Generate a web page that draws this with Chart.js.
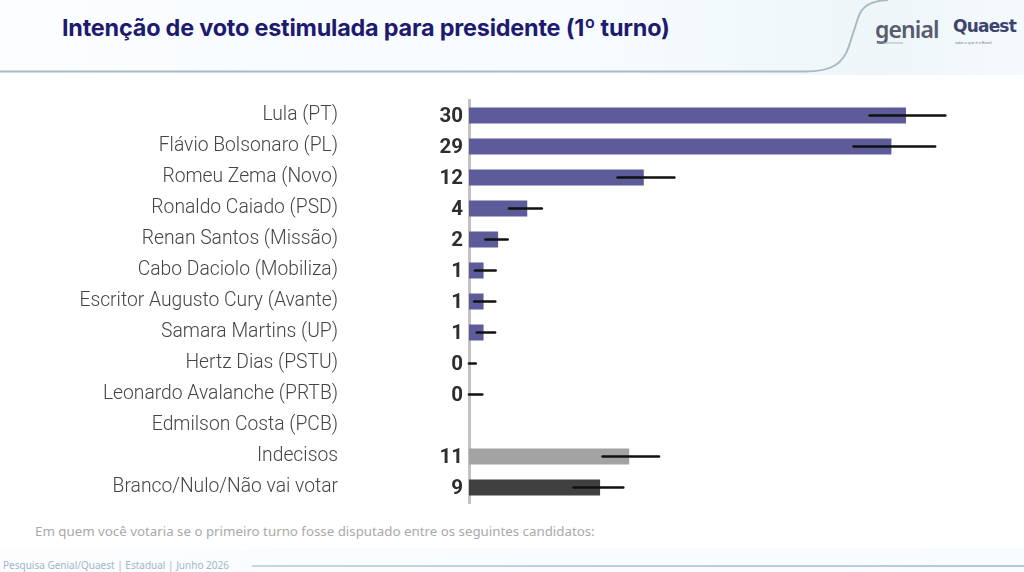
<!DOCTYPE html>
<html>
<head>
<meta charset="utf-8">
<script src="https://cdn.jsdelivr.net/npm/chart.js@4.4.1/dist/chart.umd.min.js"></script>
<style>
  html,body{margin:0;padding:0;background:#fff;}
  body{width:1024px;height:572px;position:relative;overflow:hidden;font-family:Roboto,"Noto Sans",sans-serif;}
  #hdr{position:absolute;left:0;top:0;width:1024px;height:75px;
       background:linear-gradient(90deg,#fbfdff 0%,#f6fbfd 60%,#eef6fa 85%,#f4f9fc 100%);}
  #title{position:absolute;left:62px;top:13px;font-family:Inter,sans-serif;font-weight:700;font-size:23.4px;color:#1d1a70;letter-spacing:-0.2px;white-space:nowrap;}
  #svgl{position:absolute;left:0;top:0;}
  #logo1{position:absolute;left:875px;top:13px;font-family:"Noto Sans",sans-serif;font-weight:600;font-size:23px;color:#585c6e;letter-spacing:-0.9px;}
  #logo1s{position:absolute;left:878px;top:40px;font-size:4px;color:#9aa;}
  #logo2{position:absolute;left:953px;top:16px;font-family:"DejaVu Sans",sans-serif;font-weight:700;font-size:17px;color:#3d4470;letter-spacing:-0.8px;}
  #logo2s{position:absolute;left:955px;top:40px;font-size:4px;color:#889;}
  #note{position:absolute;left:35px;top:522px;font-family:"Noto Sans",sans-serif;font-size:13.3px;color:#a9a9a9;white-space:nowrap;}
  #foot{position:absolute;left:3px;top:558px;font-family:"Noto Sans",sans-serif;font-size:10px;color:#a3b6c6;white-space:nowrap;}
  #footline{position:absolute;left:252px;top:565px;width:772px;height:2px;background:linear-gradient(90deg,#c7d6e0,#b5c9d6);}
  #bot{position:absolute;left:0;top:548px;width:1024px;height:24px;background:linear-gradient(90deg,#fbfdff,#f7fbfd);}
  canvas{position:absolute;left:0;top:0;}
</style>
</head>
<body>
<div id="hdr"></div>
<svg id="svgl" width="1024" height="80">
  <path d="M0,71.5 L805,71.5 C832,71.5 843,64 849,46 L858,18 C862,6 870,1 888,0" fill="none" stroke="#a9bac4" stroke-width="2"/>
</svg>
<div id="title">Intenção de voto estimulada para presidente (1º turno)</div>
<div id="logo1">genial</div>
<div id="logo1s">investimentos</div>
<div id="logo2">Quaest</div>
<div id="logo2s">sabe o que é o Brasil</div>
<div id="bot"></div>
<div id="note">Em quem você votaria se o primeiro turno fosse disputado entre os seguintes candidatos:</div>
<div id="foot">Pesquisa Genial/Quaest | Estadual | Junho 2026</div>
<div id="footline"></div>
<canvas id="c" width="1024" height="572"></canvas>
<script>
const categories = [
  "Lula (PT)",
  "Flávio Bolsonaro (PL)",
  "Romeu Zema (Novo)",
  "Ronaldo Caiado (PSD)",
  "Renan Santos (Missão)",
  "Cabo Daciolo (Mobiliza)",
  "Escritor Augusto Cury (Avante)",
  "Samara Martins (UP)",
  "Hertz Dias (PSTU)",
  "Leonardo Avalanche (PRTB)",
  "Edmilson Costa (PCB)",
  "Indecisos",
  "Branco/Nulo/Não vai votar"
];
const values    = [30, 29, 12, 4, 2, 1, 1, 1, 0, 0, null, 11, 9];
const errLow    = [27.5, 26.4, 10.2, 2.75, 1.13, 0.41, 0.36, 0.53, 0, 0, null, 9.17, 7.18];
const errHigh   = [32.7, 32.0, 14.1, 5.0, 2.65, 1.83, 1.8, 1.79, 0.46, 0.91, null, 13.04, 10.59];
const valueLabels = ["30","29","12","4","2","1","1","1","0","0","","11","9"];
const xMax = 35;

const colors = values.map((v,i)=> i===11 ? "#a3a3a3" : (i===12 ? "#404040" : "#5e5b9a"));

const errorBars = {
  id:'errorBars',
  afterDatasetsDraw(chart){
    const ctx = chart.ctx, xs = chart.scales.x;
    const meta = chart.getDatasetMeta(0);
    ctx.save();
    ctx.strokeStyle = "#111";
    ctx.lineWidth = 2.6;
    ctx.lineCap = "round";
    meta.data.forEach((bar,i)=>{
      if (errLow[i]==null) return;
      ctx.beginPath();
      ctx.moveTo(xs.getPixelForValue(errLow[i]), bar.y);
      ctx.lineTo(xs.getPixelForValue(errHigh[i]), bar.y);
      ctx.stroke();
    });
    ctx.restore();
  }
};
const valueText = {
  id:'valueText',
  afterDatasetsDraw(chart){
    const ctx = chart.ctx;
    const meta = chart.getDatasetMeta(0);
    ctx.save();
    ctx.font = "700 20.5px Roboto";
    ctx.fillStyle = "#2e2e2e";
    ctx.textAlign = "right";
    ctx.textBaseline = "middle";
    meta.data.forEach((bar,i)=>{
      if (!valueLabels[i]) return;
      ctx.fillText(valueLabels[i], chart.chartArea.left - 6, bar.y + 1);
    });
    ctx.restore();
  }
};

new Chart(document.getElementById('c'), {
  type:'bar',
  data:{
    labels: categories,
    datasets:[{
      data: values,
      backgroundColor: colors,
      borderWidth: 0,
      categoryPercentage: 1.0,
      barPercentage: 0.52
    }]
  },
  options:{
    indexAxis:'y',
    responsive:false,
    animation:false,
    devicePixelRatio: 1,
    layout:{ padding:{ left:0, right:45.2, top:100, bottom:69 } },
    plugins:{ legend:{display:false}, tooltip:{enabled:false} },
    scales:{
      x:{ display:false, min:0, max:xMax },
      y:{
        afterFit(scale){ scale.width = 469; scale.paddingTop = 0; scale.paddingBottom = 0; },
        grid:{ display:false, drawTicks:false },
        border:{ display:true, color:"#c2c2c2", width:3 },
        ticks:{
          padding:131,
          color:"#454545",
          font:{ family:"Roboto", size:19.3, weight:"300" },
          crossAlign:'near'
        }
      }
    }
  },
  plugins:[errorBars, valueText]
});
</script>
</body>
</html>
